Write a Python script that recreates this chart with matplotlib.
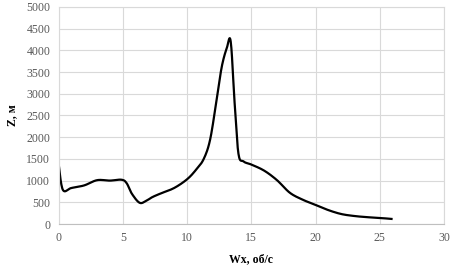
import numpy as np
import matplotlib
matplotlib.use("Agg")
import matplotlib.pyplot as plt

wx = [0, 0.33, 1.0, 2.0, 3.0, 4.0, 4.9, 5.3, 5.7, 6.3, 6.8, 7.3, 8.0, 9.0, 10.0, 10.7, 11.3, 11.8, 12.3, 12.7, 13.1, 13.4, 13.7, 14.0, 14.4, 15.0, 16.0, 17.0, 18.0, 19.0, 20.0, 21.0, 22.0, 23.0, 24.0, 25.0, 26.0]
z = [1400, 790, 830, 890, 1010, 1000, 1020, 940, 700, 490, 530, 620, 710, 830, 1030, 1250, 1500, 1950, 2860, 3620, 4060, 4200, 2800, 1620, 1440, 1370, 1230, 1010, 720, 560, 440, 320, 230, 185, 158, 140, 115]

x_ticks = [0, 5, 10, 15, 20, 25, 30]
y_ticks = [0, 500, 1000, 1500, 2000, 2500, 3000, 3500, 4000, 4500, 5000]
x_label = "Wx, об/с"
y_label = "Z, м"


def catmull(xs, ys, n=12):
    P = np.column_stack([xs, ys]).astype(float)
    P = np.vstack([P[0], P, P[-1]])
    out = []
    for i in range(1, len(P) - 2):
        p0, p1, p2, p3 = P[i - 1], P[i], P[i + 1], P[i + 2]
        t = np.linspace(0, 1, n, endpoint=False)[:, None]
        pts = 0.5 * ((2 * p1) + (-p0 + p2) * t + (2 * p0 - 5 * p1 + 4 * p2 - p3) * t ** 2
                     + (-p0 + 3 * p1 - 3 * p2 + p3) * t ** 3)
        out.append(pts)
    out.append(P[-2][None, :])
    out = np.vstack(out)
    return out[:, 0], out[:, 1]


plt.rcParams['font.family'] = ['Liberation Serif', 'DejaVu Serif']
fig = plt.figure(figsize=(4.54, 2.67), dpi=100)
ax = fig.add_axes([0.129, 0.161, 0.849, 0.813])

sx, sy = catmull(wx, z)
ax.plot(sx, sy, color='black', lw=1.6, solid_capstyle='butt')

ax.set_xlim(0, 30)
ax.set_ylim(0, 5000)
ax.set_xticks(x_ticks)
ax.set_yticks(y_ticks)
ax.grid(True, color='#d9d9d9', lw=0.8)
ax.set_axisbelow(True)
for s in ax.spines.values():
    s.set_color('#d9d9d9')
    s.set_linewidth(0.8)
ax.spines['bottom'].set_color('#bfbfbf')
ax.tick_params(length=0, labelsize=8.5, colors='#595959', pad=6)
ax.set_xlabel(x_label, fontsize=8.5, fontweight='bold', labelpad=6)
ax.set_ylabel(y_label, fontsize=8.5, fontweight='bold', labelpad=6)

fig.savefig("out.png", dpi=100)
